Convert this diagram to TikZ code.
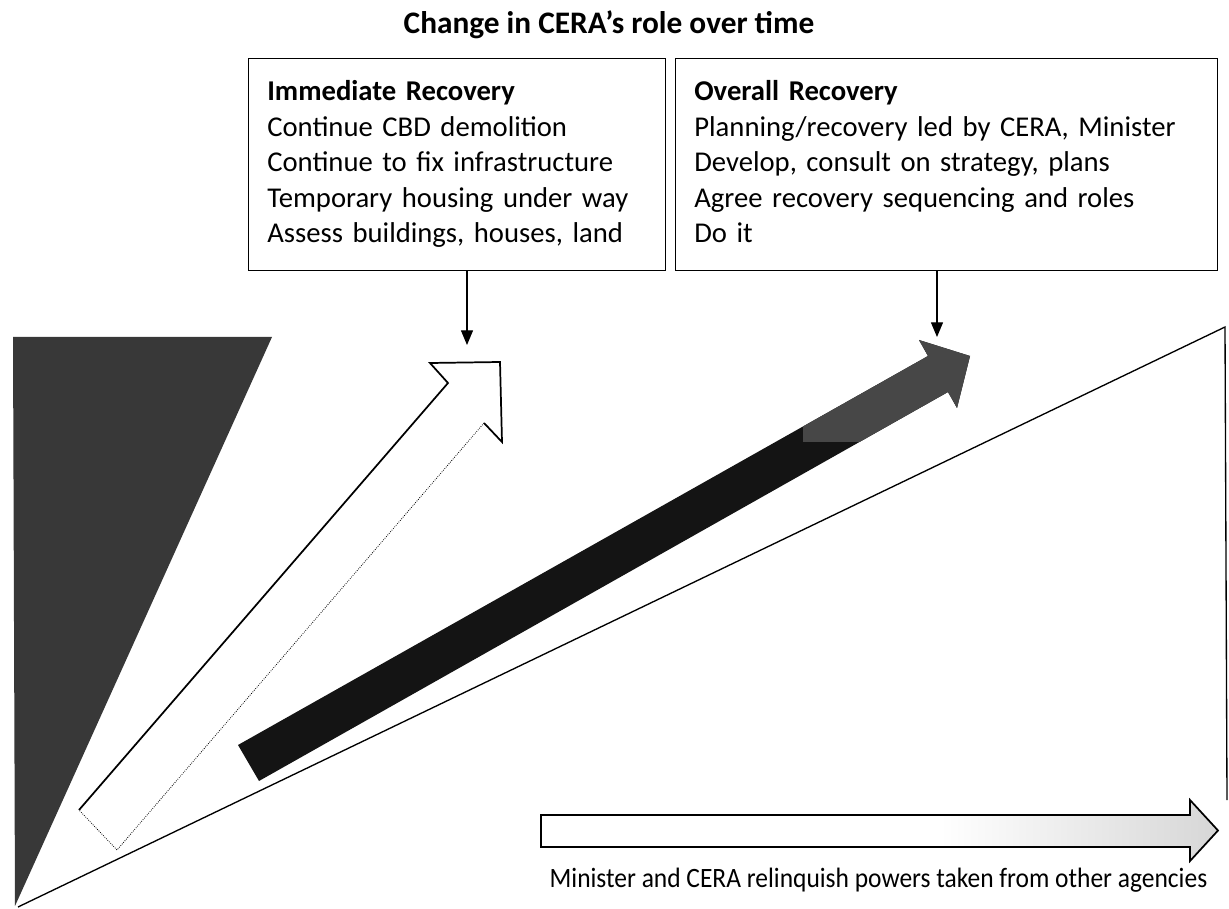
\documentclass[tikz,border=0pt]{standalone}
\usepackage{fontspec}
\setmainfont{Carlito}
\newfontfamily\narrowfont[FakeStretch=0.91]{Carlito}
\usetikzlibrary{arrows.meta, positioning}

\begin{document}
\begin{tikzpicture}[x=0.75pt, y=-0.75pt,
        rolebox/.style={draw, line width=1pt, anchor=north west, align=left, inner xsep=14pt,
            minimum height=159pt, font=\fontsize{21.5}{26.6}\selectfont,
            execute at begin node={\hyphenpenalty=10000\relax}},
        pointer/.style={-{Triangle[length=11pt, width=9pt]}, line width=0.9pt}]
    \useasboundingbox (0,0) rectangle (1229,909);

    % title and the two stages
    \node[anchor=base, font=\fontsize{23.5}{28}\selectfont\bfseries] (title) at (609,34) {Change in CERA’s role over time};
    \node[rolebox, text width=284.75pt] (immediate) at (248,58) {\textbf{Immediate Recovery}\strut\\
        Continue CBD demolition\\ Continue to fix infrastructure\\
        Temporary housing under way\\ Assess buildings, houses, land\strut};
    \node[rolebox, text width=378.5pt] (overall) at (675,58) {\textbf{Overall Recovery}\strut\\
        Planning/recovery led by CERA, Minister\\ Develop, consult on strategy, plans\\
        Agree recovery sequencing and roles\\ Do it\strut};

    % dark wedge and the thin triangle
    \fill[black!78] (13,337) -- (272,337) -- (15,906) -- cycle;
    \draw[line width=1pt] (18,907) -- (1225,327) -- (1227,800);

    % white arrow
    \draw[line width=1.3pt, line join=miter] (79,810) -- (448,383) -- (430,363) -- (500,362) -- (502,442) -- (484,423);
    \draw[densely dotted, line width=0.6pt] (484,423) -- (117,850) -- (79,810);

    % black arrow, greyer near the head
    \fill[black!92] (238,745) -- (928,356) -- (919,340) -- (970,356) -- (957,408) -- (948,392) -- (259,781) -- cycle;
    \begin{scope}
        \clip (803,300) rectangle (1000,442);
        \fill[black!72] (238,745) -- (928,356) -- (919,340) -- (970,356) -- (957,408) -- (948,392) -- (259,781) -- cycle;
    \end{scope}

    % pointers from the boxes
    \coordinate (tipA) at (467,345);
    \coordinate (tipB) at (937,337);
    \draw[pointer] (immediate.south -| tipA) -- (tipA);
    \draw[pointer] (overall.south -| tipB) -- (tipB);

    % bottom arrow
    \begin{scope}
        \clip (541,815) -- (1190,815) -- (1190,800) -- (1218,830.5) -- (1190,861) -- (1190,847) -- (541,847) -- cycle;
        \shade[left color=white, right color=black!16] (940,790) rectangle (1220,870);
    \end{scope}
    \draw[line width=1.3pt, line join=miter] (541,815) -- (1190,815) -- (1190,800) -- (1218,830.5) -- (1190,861) -- (1190,847) -- (541,847) -- cycle;
    \node[anchor=base east, font=\fontsize{21}{26}\narrowfont] (relinquish) at (1212,887) {Minister and CERA relinquish powers taken from other agencies};
\end{tikzpicture}
\end{document}
